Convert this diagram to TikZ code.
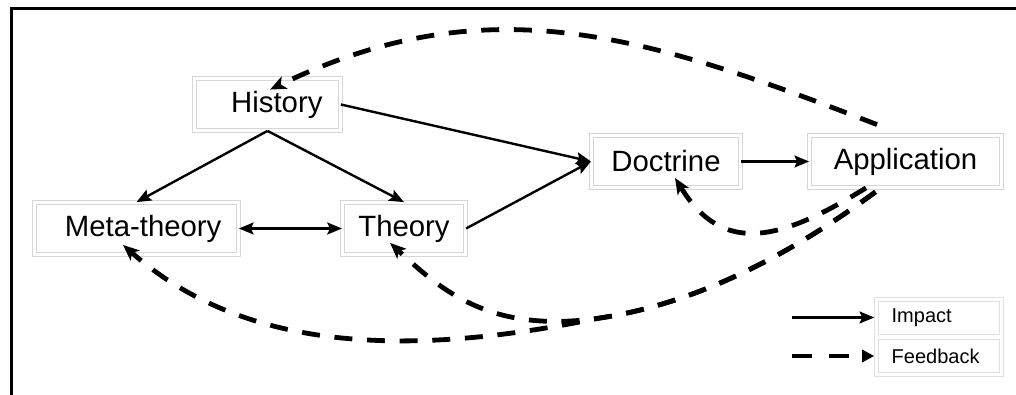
\documentclass[tikz,border=0pt]{standalone}
\usepackage{fontspec}
\setmainfont{Liberation Sans}
\usetikzlibrary{positioning, arrows.meta, calc, fit}

\begin{document}
\begin{tikzpicture}[
        x=0.75pt, y=0.75pt,
        box/.style={draw=black!16, line width=0.6pt, double, double distance=2.5pt, minimum height=39pt, inner sep=2pt, font=\fontsize{22}{26}\selectfont},
        legbox/.style={draw=black!12, line width=0.6pt, minimum height=24.75pt, text width=71pt, inner xsep=10pt, align=left, font=\fontsize{15}{18}\selectfont},
        impact/.style={line width=1.8pt, >={Stealth[length=11pt, width=9pt, inset=2pt]}, ->},
        feedback/.style={line width=3.6pt, dash pattern=on 13.5pt off 11pt, -{Stealth[length=12pt, width=10pt, inset=3pt]}}
    ]
    \useasboundingbox (0,0) rectangle (1016,395);
    \draw[line width=2.25pt] (11.5,0) -- (11.5,386.5) -- (1016,386.5);

    \node[box, minimum width=109.5pt] (History) at (267.5,290.5) {\hspace{14pt}History};
    \node[box, minimum width=153pt] (Meta) at (136.5,166.5) {\hspace{10pt}Meta-theory};
    \node[box, minimum width=92.5pt] (Theory) at (404,166.5) {Theory};
    \node[box, minimum width=112pt] (Doctrine) at (666,233.5) {Doctrine};
    \node[box, minimum width=144pt] (Application) at (905.5,233.5) {Application};

    \draw[impact] (History.east) -- (Doctrine.west);
    \draw[impact] (History.south) -- (Meta.north);
    \draw[impact] (History.south) -- (Theory.north);
    \draw[impact, <->] (Meta.east) -- (Theory.west);
    \draw[impact] (Theory.east) -- (Doctrine.west);
    \draw[impact] (Doctrine.east) -- (Application.west);

    \coordinate (fork) at (600,77);
    \draw[feedback] ($(Application.north)+(-28.5,10.5)$) .. controls (643,361) and (487,410) .. ($(History.north)+(2.5,-11.5)$);
    \draw[feedback] ($(Application.south)+(-39.5,0)$) .. controls (780,154) and (723,139) .. ($(Doctrine.south)+(9,10)$);
    \draw[feedback] ($(Application.south)+(-30,-4)$) .. controls (794,143) and (700,92) .. (fork)
        .. controls (491,61) and (442,104) .. ($(Theory.south)+(-14,12)$);
    \draw[feedback] ($(Application.south)+(-30,-4)$) .. controls (794,143) and (700,92) .. (fork)
        .. controls (424,41) and (251,37) .. ($(Meta.south)+(-13.5,10)$);

    \node[legbox] (LegImpact) at (939,77.5) {Impact};
    \node[legbox, below=3.75pt of LegImpact] (LegFeedback) {Feedback};
    \node[draw=black!12, line width=0.6pt, inner sep=2.5pt, fit=(LegImpact)(LegFeedback)] (Legend) {};
    \coordinate (ImpactStart) at (792,77.5);
    \coordinate (FeedbackStart) at (792,39);
    \draw[impact] (ImpactStart) -- (ImpactStart -| Legend.west);
    \draw[line width=3.6pt, dash pattern=on 15pt off 12.75pt, -{Triangle[length=9pt, width=9pt]}] (FeedbackStart) -- (FeedbackStart -| Legend.west);
\end{tikzpicture}
\end{document}
